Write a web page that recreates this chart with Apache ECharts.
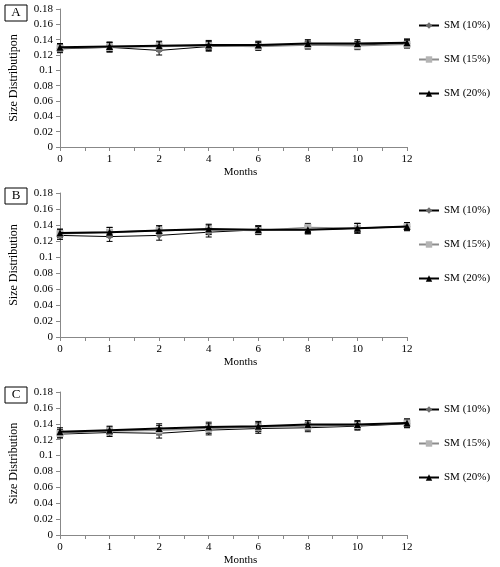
<!DOCTYPE html>
<html>
<head>
<meta charset="utf-8">
<script src="https://cdn.jsdelivr.net/npm/echarts@6/dist/echarts.min.js"></script>
<style>
	html, body { margin: 0; padding: 0; background: #fff; }
	#chart { width: 500px; height: 567px; }
</style>
</head>
<body>
<div id="chart"></div>
<script>
// months (x categories)
var months = [ '0', '1', '2', '4', '6', '8', '10', '12' ];
var seriesNames = [ 'SM (10%)', 'SM (15%)', 'SM (20%)' ];

// panel A
var a10 = [ 0.128, 0.130, 0.126, 0.131, 0.132, 0.133, 0.133, 0.135 ];
var a15 = [ 0.129, 0.130, 0.131, 0.132, 0.131, 0.133, 0.132, 0.134 ];
var a20 = [ 0.130, 0.131, 0.132, 0.133, 0.133, 0.135, 0.135, 0.136 ];
var aErr = [ 0.005, 0.006, 0.006, 0.006, 0.005, 0.005, 0.005, 0.005 ];

// panel B
var b10 = [ 0.127, 0.1255, 0.127, 0.131, 0.134, 0.134, 0.136, 0.138 ];
var b15 = [ 0.129, 0.131, 0.133, 0.134, 0.133, 0.137, 0.136, 0.138 ];
var b20 = [ 0.130, 0.131, 0.133, 0.135, 0.134, 0.134, 0.136, 0.138 ];
var bErr = [ 0.005, 0.006, 0.006, 0.006, 0.005, 0.005, 0.006, 0.005 ];

// panel C
var c10 = [ 0.127, 0.129, 0.128, 0.132, 0.134, 0.135, 0.137, 0.140 ];
var c15 = [ 0.128, 0.131, 0.132, 0.134, 0.136, 0.137, 0.138, 0.141 ];
var c20 = [ 0.130, 0.132, 0.134, 0.136, 0.137, 0.139, 0.139, 0.141 ];
var cErr = [ 0.005, 0.005, 0.006, 0.006, 0.006, 0.005, 0.005, 0.005 ];

var serif = 'Liberation Serif, Times New Roman, serif';

function errorItem(params, api) {
	var x = api.value(0);
	var top = api.coord([ x, api.value(2) ]);
	var bot = api.coord([ x, api.value(1) ]);
	var w = 3;
	var st = { stroke : '#000', lineWidth : 1 };
	return {
		type : 'group',
		children : [
			{ type : 'line', shape : { x1 : top[0], y1 : top[1], x2 : bot[0], y2 : bot[1] }, style : st },
			{ type : 'line', shape : { x1 : top[0] - w, y1 : top[1], x2 : top[0] + w, y2 : top[1] }, style : st },
			{ type : 'line', shape : { x1 : bot[0] - w, y1 : bot[1], x2 : bot[0] + w, y2 : bot[1] }, style : st }
		]
	};
}

var styles = [
	{ color : '#000', width : 1, symbol : 'diamond', size : 7, mark : '#6e6e6e' },
	{ color : '#8c8c8c', width : 1.5, symbol : 'rect', size : 7, mark : '#b4b4b4' },
	{ color : '#000', width : 2, symbol : 'triangle', size : 7, mark : '#000' }
];

var grids = [], xAxes = [], yAxes = [], series = [], legends = [], graphics = [];
var panels = [
	{ letter : 'A', top : 9, height : 138, yName : 'Size Distributipon', data : [ a10, a15, a20 ], err : aErr, legendTop : 20, box : 5 },
	{ letter : 'B', top : 193, height : 144, yName : 'Size Distribution', data : [ b10, b15, b20 ], err : bErr, legendTop : 205, box : 188 },
	{ letter : 'C', top : 392, height : 144, yName : 'Size Distribution', data : [ c10, c15, c20 ], err : cErr, legendTop : 404, box : 387 }
];

panels.forEach(function(p, gi) {
	grids.push({ left : 58, top : p.top, width : 349, height : p.height });
	xAxes.push({
		gridIndex : gi,
		type : 'value',
		min : 0,
		max : months.length - 1,
		interval : 0.5,
		name : 'Months',
		nameLocation : 'middle',
		nameGap : 20,
		nameTextStyle : { fontFamily : serif, fontSize : 11, color : '#000', padding : [ 0, 0, 0, 14 ] },
		axisLine : { lineStyle : { color : '#888' } },
		axisTick : { length : 4, lineStyle : { color : '#888' } },
		splitLine : { show : false },
		axisLabel : {
			fontFamily : serif, fontSize : 11, color : '#000', margin : 7,
			formatter : function(v) { return v % 1 === 0 ? months[v] : ''; }
		}
	});
	yAxes.push({
		gridIndex : gi,
		type : 'value',
		min : 0,
		max : 0.18,
		interval : 0.02,
		name : p.yName,
		nameLocation : 'middle',
		nameGap : 40,
		nameTextStyle : { fontFamily : serif, fontSize : 12, color : '#000' },
		axisLine : { show : true, lineStyle : { color : '#888' } },
		axisTick : { show : true, length : 4, lineStyle : { color : '#888' } },
		splitLine : { show : false },
		axisLabel : { fontFamily : serif, fontSize : 11, color : '#000', margin : 7 }
	});
	p.data.forEach(function(vals, si) {
		var s = styles[si];
		series.push({
			type : 'custom',
			xAxisIndex : gi,
			yAxisIndex : gi,
			renderItem : errorItem,
			encode : { x : 0, y : [ 1, 2 ] },
			silent : true,
			z : 1,
			data : vals.map(function(v, i) { return [ i, v - p.err[i], v + p.err[i] ]; })
		});
		series.push({
			name : seriesNames[si],
			type : 'line',
			xAxisIndex : gi,
			yAxisIndex : gi,
			symbol : s.symbol,
			symbolSize : s.size,
			animation : false,
			z : 2 + si,
			lineStyle : { color : s.color, width : s.width },
			itemStyle : { color : s.mark },
			data : vals.map(function(v, i) { return [ i, v ]; })
		});
	});
	legends.push({
		orient : 'vertical',
		left : 418,
		top : p.legendTop,
		padding : 0,
		itemGap : 23,
		itemWidth : 20,
		itemHeight : 8,
		data : seriesNames,
		textStyle : { fontFamily : serif, fontSize : 11, color : '#000' }
	});
	graphics.push({
		type : 'rect',
		shape : { x : 5, y : p.box, width : 22, height : 16 },
		style : { fill : '#fff', stroke : '#000', lineWidth : 1 }
	});
	graphics.push({
		type : 'text',
		x : 16,
		y : p.box + 8,
		style : { text : p.letter, fontFamily : serif, fontSize : 13, fill : '#000', align : 'center', verticalAlign : 'middle' }
	});
});

var chart = echarts.init(document.getElementById('chart'));
chart.setOption({
	animation : false,
	grid : grids,
	xAxis : xAxes,
	yAxis : yAxes,
	legend : legends,
	graphic : graphics,
	series : series
});
</script>
</body>
</html>
